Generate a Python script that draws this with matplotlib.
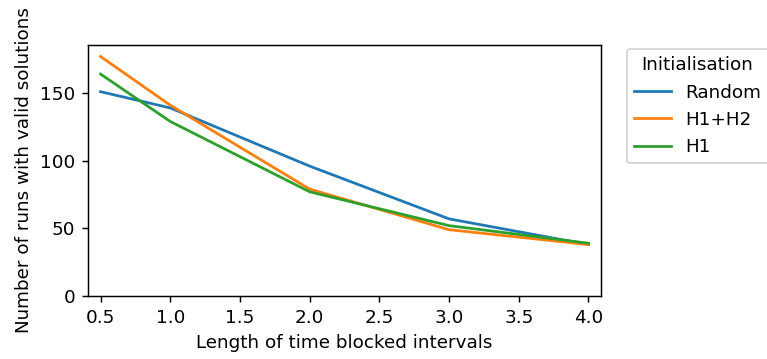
import matplotlib.pyplot as plt

interval_lengths = [0.5, 1.0, 2.0, 3.0, 4.0]
random_init = [151, 139, 96, 57, 38]
h1_h2_init = [177, 141, 79, 49, 38]
h1_init = [164, 129, 77, 52, 39]

DPI = 132
fig = plt.figure(figsize=(767 / DPI, 359 / DPI), dpi=DPI)
ax = fig.add_axes([88 / 767, 1 - 296 / 359, 513 / 767, 251 / 359])

ax.plot(interval_lengths, random_init, label="Random")
ax.plot(interval_lengths, h1_h2_init, label="H1+H2")
ax.plot(interval_lengths, h1_init, label="H1")

ax.set_xlim(0.41, 4.09)
ax.set_ylim(0, 185.5)
ax.set_yticks([0, 50, 100, 150])
ax.set_xlabel("Length of time blocked intervals")
ax.set_ylabel("Number of runs with valid solutions")
ax.legend(title="Initialisation", loc="upper left", bbox_to_anchor=(1.032, 1.02))

fig.savefig("out.png", dpi=DPI)
